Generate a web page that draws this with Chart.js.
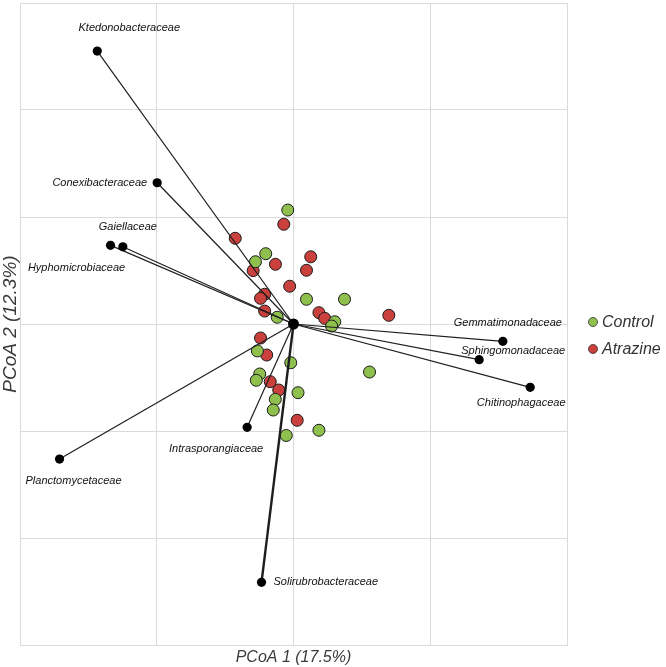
<!DOCTYPE html>
<html>
<head>
<meta charset="utf-8">
<script src="https://cdn.jsdelivr.net/npm/chart.js@4.4.1/dist/chart.umd.min.js"></script>
<style>
  html, body { margin: 0; padding: 0; background: #fff; }
</style>
</head>
<body>
<canvas id="Graph" width="666" height="667"></canvas>
<script>
// Sample scores (PCoA 1, PCoA 2)
const controlX = [-0.042, -0.203, -0.278, 0.095, 0.373, -0.119, 0.302, 0.279, -0.264, -0.020, 0.556, -0.247, -0.272, 0.033, -0.133, -0.148, 0.186, -0.053];
const controlY = [1.065, 0.657, 0.582, 0.231, 0.231, 0.063, 0.021, -0.019, -0.252, -0.362, -0.449, -0.467, -0.526, -0.642, -0.704, -0.804, -0.993, -1.042];
const atrazineX = [-0.071, -0.426, 0.126, -0.132, -0.295, 0.095, -0.028, -0.211, -0.241, -0.211, 0.186, 0.228, 0.697, -0.241, -0.196, -0.170, -0.108, 0.027];
const atrazineY = [0.932, 0.801, 0.628, 0.558, 0.499, 0.502, 0.353, 0.278, 0.240, 0.121, 0.106, 0.053, 0.081, -0.131, -0.290, -0.539, -0.617, -0.900];

// Family vectors (end points of the arrows from the origin)
const families = ['Ktedonobacteraceae', 'Conexibacteraceae', 'Gaiellaceae', 'Hyphomicrobiaceae', 'Gemmatimonadaceae',
                  'Sphingomonadaceae', 'Chitinophagaceae', 'Planctomycetaceae', 'Intrasporangiaceae', 'Solirubrobacteraceae'];
const familyX = [-1.435, -0.997, -1.248, -1.338, 1.531, 1.358, 1.731, -1.711, -0.339, -0.234];
const familyY = [2.551, 1.320, 0.722, 0.735, -0.162, -0.333, -0.592, -1.262, -0.966, -2.414];

const groupNames = ['Control', 'Atrazine'];
const groupColors = ['#8fc04e', '#c9403c'];

// where each family name sits relative to its end point
const labelPlacement = {
    Ktedonobacteraceae: { dx: 32, dy: -23, align: 'center' },
    Conexibacteraceae: { dx: -10, dy: 0, align: 'right' },
    Gaiellaceae: { dx: 5, dy: -20, align: 'center' },
    Hyphomicrobiaceae: { dx: -34, dy: 23, align: 'center' },
    Gemmatimonadaceae: { dx: 5, dy: -18, align: 'center' },
    Sphingomonadaceae: { dx: 34, dy: -9, align: 'center' },
    Chitinophagaceae: { dx: -9, dy: 16, align: 'center' },
    Planctomycetaceae: { dx: 14, dy: 22, align: 'center' },
    Intrasporangiaceae: { dx: -31, dy: 22, align: 'center' },
    Solirubrobacteraceae: { dx: 12, dy: 0, align: 'left' }
};

function toPoints(xs, ys) {
    return xs.map((x, i) => ({ x: x, y: ys[i] }));
}

const datasets = [];

// origin dot on top of everything
datasets.push({
    label: 'origin',
    data: [{ x: 0, y: 0 }],
    pointRadius: 5.5,
    pointBackgroundColor: '#000',
    pointBorderWidth: 0,
    showLine: false
});

// family arrows
families.forEach((name, i) => {
    datasets.push({
        label: name,
        data: [{ x: 0, y: 0 }, { x: familyX[i], y: familyY[i] }],
        showLine: true,
        borderColor: '#1e1e1e',
        borderWidth: name === 'Solirubrobacteraceae' ? 2.4 : 1.2,
        pointRadius: [0, 4.6],
        pointBackgroundColor: '#000',
        pointBorderWidth: 0,
        fill: false
    });
});

// sample points
datasets.push({
    label: groupNames[0],
    data: toPoints(controlX, controlY),
    pointRadius: 6,
    pointBackgroundColor: groupColors[0],
    pointBorderColor: '#1a1a1a',
    pointBorderWidth: 1,
    showLine: false
});
datasets.push({
    label: groupNames[1],
    data: toPoints(atrazineX, atrazineY),
    pointRadius: 6,
    pointBackgroundColor: groupColors[1],
    pointBorderColor: '#1a1a1a',
    pointBorderWidth: 1,
    showLine: false
});

// family names and the group legend
const labelPlugin = {
    id: 'familyLabels',
    afterDatasetsDraw(chart) {
        const ctx = chart.ctx;
        const xs = chart.scales.x;
        const ys = chart.scales.y;
        ctx.save();
        ctx.font = 'italic 11px "Liberation Sans", Arial, sans-serif';
        ctx.fillStyle = '#111';
        ctx.textBaseline = 'middle';
        families.forEach((name, i) => {
            const px = xs.getPixelForValue(familyX[i]);
            const py = ys.getPixelForValue(familyY[i]);
            const p = labelPlacement[name];
            ctx.textAlign = p.align;
            ctx.fillText(name, px + p.dx, py + p.dy);
        });

        // legend
        const area = chart.chartArea;
        const midY = (area.top + area.bottom) / 2;
        ctx.font = 'italic 16px "Liberation Sans", Arial, sans-serif';
        ctx.textAlign = 'left';
        groupNames.forEach((g, i) => {
            const cy = midY - 2 + i * 27;
            ctx.beginPath();
            ctx.arc(area.right + 26, cy, 4.5, 0, Math.PI * 2);
            ctx.fillStyle = groupColors[i];
            ctx.fill();
            ctx.lineWidth = 0.8;
            ctx.strokeStyle = '#333';
            ctx.stroke();
            ctx.fillStyle = '#333';
            ctx.fillText(g, area.right + 35, cy + 1);
        });
        ctx.restore();
    }
};

const gridColor = '#dadada';

const ctx = document.getElementById('Graph').getContext('2d');
const chartInstance = new Chart(ctx, {
    type: 'scatter',
    data: { datasets: datasets },
    options: {
        responsive: false,
        animation: false,
        layout: {
            autoPadding: false,
            padding: { top: 3, right: 99, bottom: 0, left: 0 }
        },
        plugins: {
            legend: { display: false },
            tooltip: { enabled: false }
        },
        scales: {
            x: {
                type: 'linear',
                min: -2,
                max: 2,
                ticks: { display: false, stepSize: 1 },
                grid: { color: gridColor, drawTicks: false, lineWidth: 1 },
                border: { color: gridColor },
                title: {
                    display: true,
                    text: 'PCoA 1 (17.5%)',
                    color: '#3a3a3a',
                    font: { family: '"Liberation Sans", Arial, sans-serif', size: 16, style: 'italic', lineHeight: 1.2 },
                    padding: { top: 2.8, bottom: 0 }
                }
            },
            y: {
                type: 'linear',
                min: -3,
                max: 3,
                ticks: { display: false, stepSize: 1 },
                grid: { color: gridColor, drawTicks: false, lineWidth: 1 },
                border: { color: gridColor },
                title: {
                    display: true,
                    text: 'PCoA 2 (12.3%)',
                    color: '#3a3a3a',
                    font: { family: '"Liberation Sans", Arial, sans-serif', size: 19, style: 'italic', lineHeight: 1 },
                    padding: { top: 1, bottom: 0 }
                }
            }
        }
    },
    plugins: [labelPlugin]
});
</script>
</body>
</html>
